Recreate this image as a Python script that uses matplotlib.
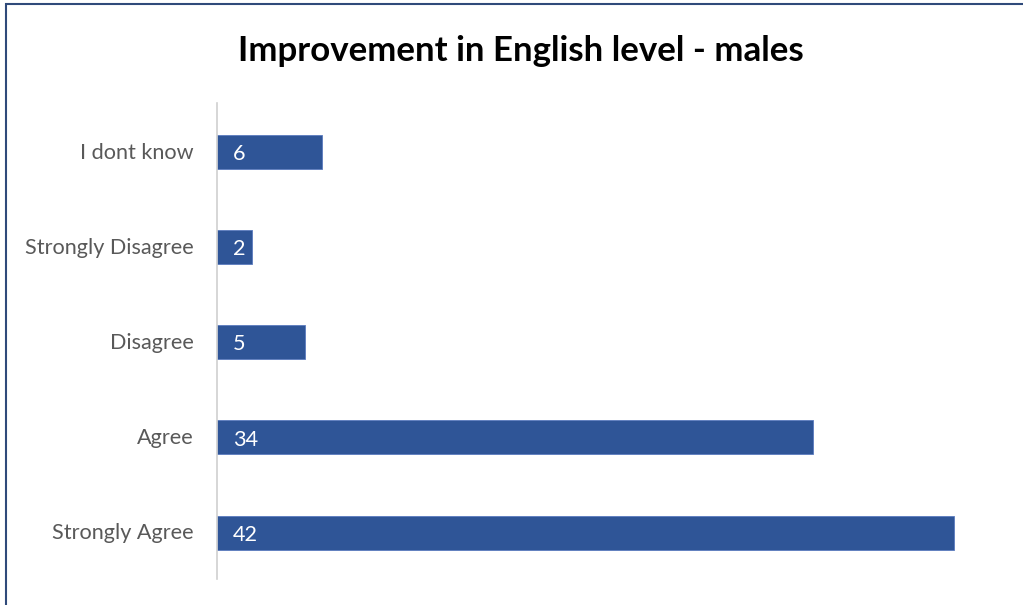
import matplotlib
matplotlib.use("Agg")
import matplotlib.pyplot as plt
from matplotlib.patches import Rectangle

categories = ["Strongly Agree", "Agree", "Disagree", "Strongly Disagree", "I dont know"]
values = [42, 34, 5, 2, 6]
title = "Improvement in English level - males"

W, H = 1023, 605
fig = plt.figure(figsize=(W / 100, H / 100), dpi=100)
plt.rcParams['font.family'] = ['Lato', 'DejaVu Sans']

# border (top/left visible)
fig.patches.append(Rectangle((6 / W, -0.05), 1.2, (H - 4) / H + 0.05, transform=fig.transFigure,
                             fill=False, edgecolor="#2F4A7A", linewidth=1.5))

left, right = 217 / W, 988.6 / W
bottom, top = 1 - 579 / H, 1 - 103 / H
ax = fig.add_axes([left, bottom, right - left, top - bottom])

y = range(len(categories))
ax.barh([p - 0.012 for p in y], values, height=0.357, color="#2F5597", edgecolor="#5B7BBF", linewidth=0.6)
ax.set_xlim(0, 44)
ax.set_ylim(-0.5, len(categories) - 0.5)
ax.set_yticks(list(y))
ax.set_yticklabels(categories, fontsize=15.6, color="#595959", va="center_baseline")
ax.tick_params(axis="y", length=0, pad=17)
ax.set_xticks([])
for s in ["top", "right", "bottom"]:
    ax.spines[s].set_visible(False)
ax.spines["left"].set_color("#D0D0D0")
ax.spines["left"].set_linewidth(1.2)

for yi, v in zip(y, values):
    ax.annotate(str(v), xy=(0, yi - 0.012), xytext=(11.5, -6), textcoords="offset points",
                ha="left", va="baseline", color="white", fontsize=15.6)

fig.text(521 / W, 1 - 51 / H, title, ha="center", va="center",
         fontsize=25.1, fontweight="bold", color="black")

fig.savefig("out.png", dpi=100)
